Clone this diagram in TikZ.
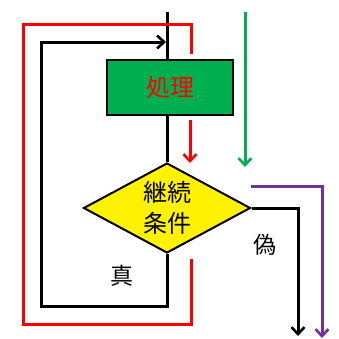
\documentclass[tikz,border=0pt]{standalone}
\usepackage{fontspec}
\newfontfamily\jp{Noto Sans CJK JP}
\usetikzlibrary{shapes.geometric,arrows.meta}
\definecolor{xgreen}{HTML}{00B050}
\definecolor{xpurple}{HTML}{7030A0}
\begin{document}
\begin{tikzpicture}[x=1pt,y=-1pt,
  line/.style={line width=3pt},
  tip/.style={-{Straight Barb[length=7pt,width=13pt,line width=2.6pt]}},
  lbl/.style={font=\jp\fontsize{24}{27}\selectfont, inner sep=0pt},
  side/.style={font=\jp\fontsize{23}{26}\selectfont, inner sep=0pt}]
\useasboundingbox (0,0) rectangle (339,338);
% nodes
\node[draw, line width=2pt, fill=xgreen, minimum width=126pt, minimum height=55pt, inner sep=0pt,
      lbl, text=red] (proc) at (170,87.5) {処理};
\node[draw, line width=2pt, fill=yellow, diamond, aspect=1.85, minimum width=167pt, minimum height=90pt,
      inner sep=0pt, lbl, align=center, text=black] (cond) at (167,208) {継続\\[4pt]条件};
\node[side] (true) at (122,276) {真};
\node[side] (false) at (265,245) {偽};
% coordinates
\coordinate (top) at (167,12);
\coordinate (loopA) at (167,306);
\coordinate (loopB) at (41,306);
\coordinate (loopC) at (41,42);
\coordinate (loopD) at (167,42);
\coordinate (fout1) at (298,208);
\coordinate (fout2) at (298,336);
\coordinate (p0) at (251,186);
\coordinate (p1) at (322,186);
\coordinate (p2) at (322,338);
\coordinate (r0) at (191,54);
\coordinate (r1) at (191,24);
\coordinate (r2) at (23,24);
\coordinate (r3) at (23,324);
\coordinate (r4) at (191,324);
\coordinate (r5) at (191,259);
\coordinate (ra) at (190,120);
\coordinate (rb) at (190,163);
\coordinate (g0) at (245,12);
\coordinate (g1) at (245,167);
% black flow
\draw[line] (top) -- (top |- proc.north);
\draw[line] (cond.north |- proc.south) -- (cond.north);
\draw[line, tip] (cond.south) -- (loopA) -- (loopB) -- (loopC) -- ([xshift=-1pt]loopD);
\draw[line, tip] (cond.east) -- (cond.east -| fout1) -- (fout2);
% red
\draw[line, red] (r0) -- (r1) -- (r2) -- (r3) -- (r4) -- (r5);
\draw[line, red, tip] (ra) -- (rb);
% green
\draw[line, xgreen, tip] (g0) -- (g1);
% purple
\draw[line, xpurple, tip] (p0) -- (p1) -- (p2);
\end{tikzpicture}
\end{document}
